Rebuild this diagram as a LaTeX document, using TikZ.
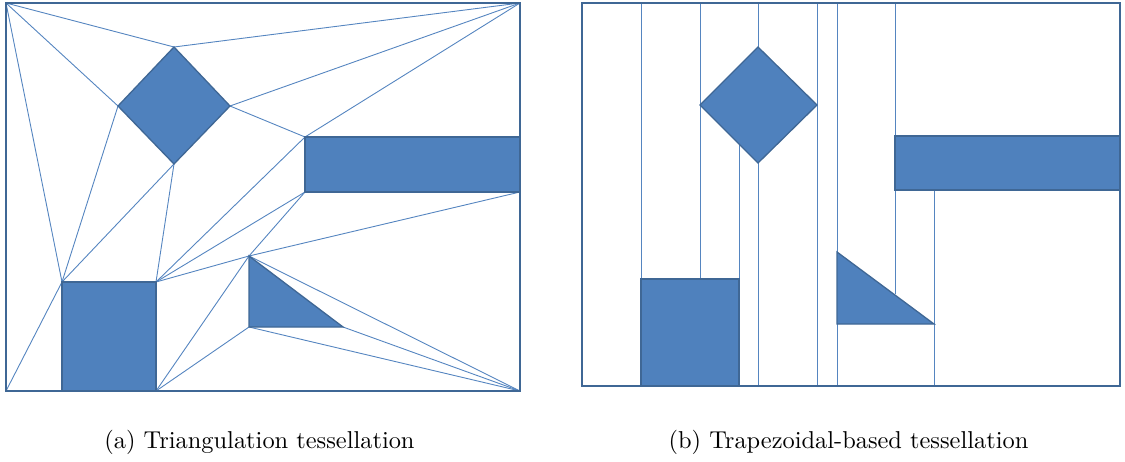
\documentclass[tikz,border=0pt]{standalone}
\usepackage{xcolor}
\usepackage{graphicx}
\definecolor{shapefill}{HTML}{4F81BD}
\definecolor{shapeedge}{HTML}{3F6795}
\definecolor{framecol}{HTML}{3F6795}
\definecolor{thinline}{HTML}{5585C0}
\begin{document}
\begin{tikzpicture}[x=1pt,y=-1pt,
  thin edge/.style={draw=thinline,line width=0.9pt},
  obstacle/.style={fill=shapefill,draw=shapeedge,line width=1.3pt,line join=miter},
  frame/.style={draw=framecol,line width=1.6pt},
  caption/.style={anchor=base,inner sep=0pt}]
\useasboundingbox (0,0) rectangle (1125,461);
% ---------- (a) triangulation ----------
\coordinate (A) at (6,3);
\coordinate (B) at (520,3);
\coordinate (C) at (520,391);
\coordinate (D) at (6,391);
\coordinate (dT) at (174,47);
\coordinate (dL) at (118,106);
\coordinate (dR) at (230,106);
\coordinate (dB) at (174,164);
\coordinate (rTL) at (305,137);
\coordinate (rBL) at (305,192);
\coordinate (rTR) at (520,137);
\coordinate (rBR) at (520,192);
\coordinate (sTL) at (62,282);
\coordinate (sTR) at (156,282);
\coordinate (sBL) at (62,391);
\coordinate (sBR) at (156,391);
\coordinate (tT) at (249,256);
\coordinate (tBL) at (249,327);
\coordinate (tR) at (343,327);
\foreach \p/\q in {A/dT,A/dL,A/sTL,dT/B,dR/B,dR/rTL,rTL/B,dL/sTL,dB/sTL,dB/sTR,
  rTL/sTR,rBL/sTR,rBL/tT,tT/sTR,rBR/tT,tT/sBR,tBL/sBR,tBL/C,tT/C,tR/C,D/sTL}
  \draw[thin edge] (\p) -- (\q);
\draw[obstacle] (dT) -- (dR) -- (dB) -- (dL) -- cycle;
\draw[obstacle] (rTL) -- (rTR) -- (rBR) -- (rBL) -- cycle;
\draw[obstacle] (sTL) -- (sTR) -- (sBR) -- (sBL) -- cycle;
\draw[obstacle] (tT) -- (tR) -- (tBL) -- cycle;
\draw[frame] (A) rectangle (C);
\node[caption] (capa) at (259.5,448) {\scalebox{2.44}{(a) Triangulation tessellation}};
% ---------- (b) trapezoidal ----------
\coordinate (E) at (582,3);
\coordinate (F) at (1120,386);
\coordinate (eT) at (758,47);
\coordinate (eL) at (700,105);
\coordinate (eR) at (817,105);
\coordinate (eB) at (758,163);
\coordinate (qTL) at (895,136);
\coordinate (qBR) at (1120,190);
\coordinate (uTL) at (641,279);
\coordinate (uBR) at (739,386);
\coordinate (vT) at (837,252);
\coordinate (vBL) at (837,324);
\coordinate (vR) at (934,324);
% vertical trapezoid boundaries
\coordinate (l1t) at (641,3);
\coordinate (l2t) at (700,3);  \coordinate (l2b) at (700,279);
\coordinate (l3t) at (739,144); \coordinate (l3b) at (739,279);
\coordinate (l4t) at (758,3);  \coordinate (l4b) at (758,386);
\coordinate (l5t) at (817,3);  \coordinate (l5b) at (817,386);
\coordinate (l6t) at (837,3);  \coordinate (l6b) at (837,386);
\coordinate (l7t) at (895,3);  \coordinate (l7m) at (895,190); \coordinate (l7b) at (895,294);
\coordinate (l8t) at (934,190); \coordinate (l8b) at (934,386);
\foreach \p/\q in {l1t/uTL,l2t/l2b,l3t/l3b,l4t/eT,eB/l4b,l5t/l5b,l6t/vT,vBL/l6b,
  l7t/qTL,l7m/l7b,l8t/l8b}
  \draw[thin edge] (\p) -- (\q);
\draw[obstacle] (eT) -- (eR) -- (eB) -- (eL) -- cycle;
\draw[obstacle] (qTL) rectangle (qBR);
\draw[obstacle] (uTL) rectangle (uBR);
\draw[obstacle] (vT) -- (vR) -- (vBL) -- cycle;
\draw[frame] (E) rectangle (F);
\node[caption] (capb) at (848.5,448) {\scalebox{2.44}{(b) Trapezoidal-based tessellation}};
\end{tikzpicture}
\end{document}
